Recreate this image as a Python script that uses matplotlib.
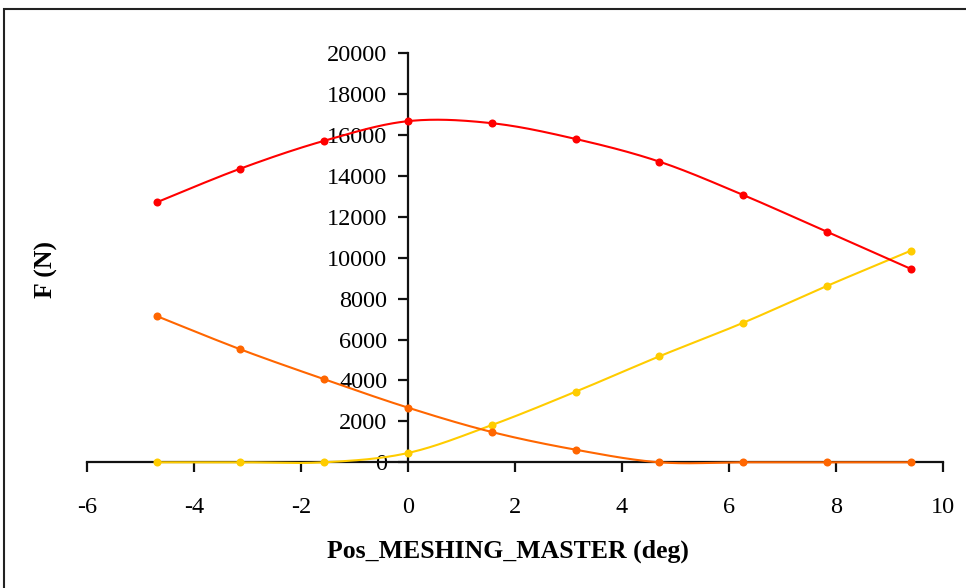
import numpy as np
import matplotlib
matplotlib.use("Agg")
import matplotlib.pyplot as plt
from matplotlib.patches import Rectangle
from matplotlib.transforms import IdentityTransform

plt.rcParams["font.family"] = ["Liberation Serif", "DejaVu Serif"]
plt.rcParams["axes.unicode_minus"] = False

# Mesh position (deg)
pos_deg = [-4.7, -3.133, -1.567, 0.0, 1.567, 3.133, 4.7, 6.267, 7.833, 9.4]

# Contact forces (N)
force_red = [12700, 14350, 15710, 16670, 16570, 15800, 14690, 13060, 11260, 9450]
force_orange = [7150, 5520, 4060, 2670, 1480, 616, 0, 0, 0, 0]
force_yellow = [0, 0, 0, 455, 1820, 3450, 5180, 6820, 8620, 10340]

x_ticks = [-6, -4, -2, 0, 2, 4, 6, 8, 10]
y_ticks = list(range(0, 20001, 2000))

colors = {"red": "#FF0000", "orange": "#FF6600", "yellow": "#FFCC00"}


def smooth(xs, ys, n=40):
    """Cubic Bezier smoothing through every point (spreadsheet-style)."""
    p = np.column_stack([xs, ys]).astype(float)
    ext = np.vstack([p[0], p, p[-1]])
    out = [p[:1]]
    t = np.linspace(0, 1, n)[1:, None]
    for i in range(len(p) - 1):
        p0, p3 = ext[i + 1], ext[i + 2]
        c1 = p0 + (ext[i + 2] - ext[i]) / 6.0
        c2 = p3 - (ext[i + 3] - ext[i + 1]) / 6.0
        seg = ((1 - t) ** 3) * p0 + 3 * ((1 - t) ** 2) * t * c1 \
            + 3 * (1 - t) * t ** 2 * c2 + t ** 3 * p3
        out.append(seg)
    pts = np.vstack(out)
    return pts[:, 0], pts[:, 1]


fig = plt.figure(figsize=(9.66, 5.88), dpi=100)
ax = fig.add_axes([87 / 966, 1 - 462.3 / 588, (943 - 87) / 966, (462.3 - 53) / 588])

for key, vals in [("yellow", force_yellow), ("orange", force_orange), ("red", force_red)]:
    sx, sy = smooth(pos_deg, vals)
    ax.plot(sx, sy, color=colors[key], lw=1.5, zorder=4, solid_capstyle="round",
            clip_on=False)
    ax.plot(pos_deg, vals, "o", color=colors[key], ms=5.8, zorder=5, mec="none",
            clip_on=False)

ax.set_xlim(-6, 10)
ax.set_ylim(0, 20000)
ax.set_xticks(x_ticks)
ax.set_xticklabels([str(v) for v in x_ticks])
ax.set_yticks(y_ticks)
ax.set_yticklabels([str(v) for v in y_ticks])

ax.spines["top"].set_visible(False)
ax.spines["right"].set_visible(False)
ax.spines["left"].set_position(("data", 0))
for s in ("left", "bottom"):
    ax.spines[s].set_linewidth(1.6)
    ax.spines[s].set_color("#111111")
    ax.spines[s].set_zorder(2)

ax.tick_params(axis="x", direction="out", length=7, width=1.6, color="#111111",
               labelsize=17.5, pad=18)
ax.tick_params(axis="y", direction="out", length=7, width=1.6, color="#111111",
               labelsize=17.5, pad=8)

fig.text(508 / 966, 1 - 551 / 588, "Pos_MESHING_MASTER (deg)", ha="center", va="center",
         fontsize=18.5, fontweight="bold")
fig.text(46 / 966, 1 - 270 / 588, "F (N)", ha="center", va="center", rotation=90,
         fontsize=18.5, fontweight="bold")

border = Rectangle((4, 588 - 9 - 700), 1000, 700, fill=False,
                   edgecolor="#222222", lw=1.5)
border.set_transform(IdentityTransform())
fig.patches.append(border)

fig.savefig("out.png", dpi=100)
